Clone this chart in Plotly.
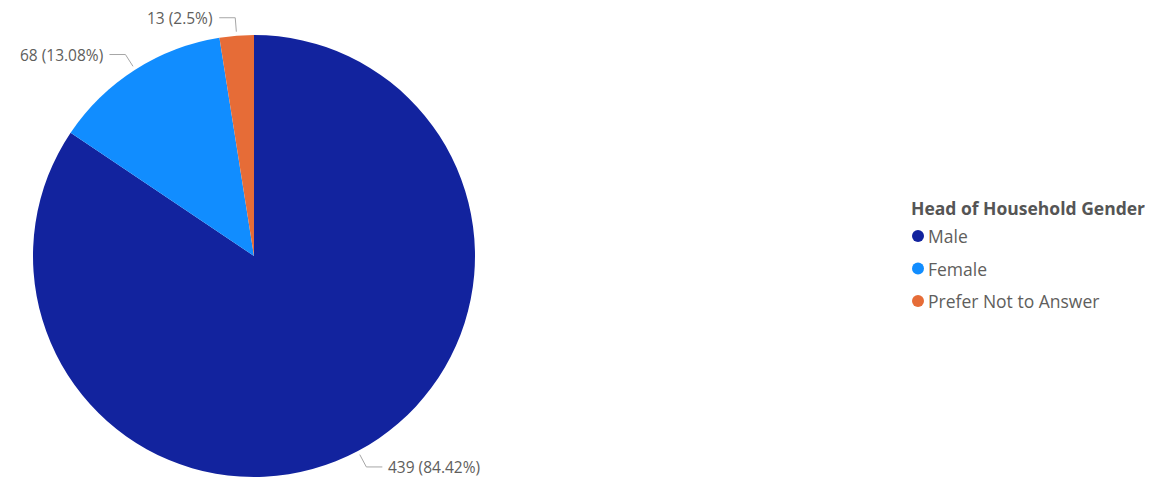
import math
import plotly.graph_objects as go

categories = ["Male", "Female", "Prefer Not to Answer"]
counts = [439, 68, 13]
colors = ["#12239E", "#118DFF", "#E66C37"]
legend_title = "Head of Household Gender"

W, H = 1153, 478
OFF = 8  # page body margin offset
CX, CY, R = 254 - OFF, 256 - OFF, 221  # pie centre and radius in pixels
FONT = "Segoe UI, Open Sans, sans-serif"
TXT = "#605E5C"


def px(x):
    return x / W


def py(y):
    return 1 - y / H


def fmt_pct(v):
    s = f"{v:.2f}".rstrip("0").rstrip(".")
    return s + "%"


total = sum(counts)
fig = go.Figure(go.Pie(
    labels=categories,
    values=counts,
    marker=dict(colors=colors),
    sort=False,
    direction="clockwise",
    rotation=0,
    textinfo="none",
    hoverinfo="label+value+percent",
    showlegend=False,
    domain=dict(x=[px(CX - R), px(CX + R)], y=[py(CY + R), py(CY - R)]),
))

shapes = []
annotations = []
cum = 0
for cat, val in zip(categories, counts):
    frac_mid = (cum + val / 2) / total
    cum += val
    th = 2 * math.pi * frac_mid
    dx, dy = math.sin(th), -math.cos(th)
    x0, y0 = CX + (R + 4) * dx, CY + (R + 4) * dy
    x1, y1 = CX + (R + 18) * dx, CY + (R + 18) * dy
    side = 1 if dx >= 0 else -1
    x2 = x1 + side * 16
    shapes.append(dict(type="path", xref="paper", yref="paper",
                       path=f"M {px(x0)} {py(y0)} L {px(x1)} {py(y1)} L {px(x2)} {py(y1)}",
                       line=dict(color="#A6A6A6", width=1)))
    pct = 100 * val / total
    annotations.append(dict(xref="paper", yref="paper", x=px(x2 + side * 4), y=py(y1),
                            text=f"{val} ({fmt_pct(pct)})", showarrow=False,
                            xanchor="left" if side > 0 else "right", yanchor="middle",
                            font=dict(family=FONT, size=15.5, color=TXT)))

# custom legend
LX, LY0, LSTEP = 911 - OFF, 236 - OFF, 32.5
annotations.append(dict(xref="paper", yref="paper", x=px(LX - 2), y=py(208 - OFF),
                        text=f"<b>{legend_title}</b>", showarrow=False,
                        xanchor="left", yanchor="middle",
                        font=dict(family=FONT, size=17.5, color="#555555")))
for i, (cat, col) in enumerate(zip(categories, colors)):
    yc = LY0 + i * LSTEP
    shapes.append(dict(type="circle", xref="paper", yref="paper",
                       x0=px(LX + 1), x1=px(LX + 13), y0=py(yc - 6), y1=py(yc + 6),
                       fillcolor=col, line=dict(width=0)))
    annotations.append(dict(xref="paper", yref="paper", x=px(LX + 15), y=py(yc),
                            text=cat, showarrow=False, xanchor="left", yanchor="middle",
                            font=dict(family=FONT, size=17.5, color=TXT)))

fig.update_layout(
    width=W, height=H,
    margin=dict(l=0, r=0, t=0, b=0),
    paper_bgcolor="white", plot_bgcolor="white",
    shapes=shapes, annotations=annotations,
)
fig.write_html("out.html")
